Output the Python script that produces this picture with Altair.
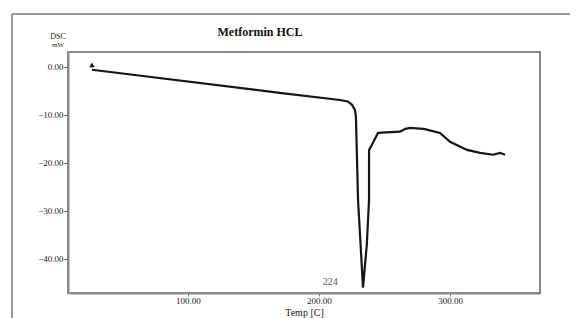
import altair as alt
import pandas as pd

# DSC curve (temperature in C, heat flow in mW)
temp = [26.7, 170.0, 216.0, 222.0, 225.2, 227.5, 228.2, 229.8, 233.6, 236.5,
        238.2, 238.2, 241.2, 245.0, 255.0, 261.8, 266.0, 269.5, 280.0, 292.4,
        300.0, 313.0, 322.9, 332.8, 338.2, 342.0]
dsc = [-0.6, -5.4, -6.9, -7.2, -7.9, -9.0, -10.5, -27.7, -46.0, -37.0,
       -27.7, -17.3, -15.8, -13.75, -13.6, -13.5, -12.9, -12.7, -12.9, -13.75,
       -15.6, -17.3, -17.9, -18.3, -17.9, -18.3]

marker_temp = [26.7]
marker_dsc = [0.4]

peak_label = ["224"]
peak_label_temp = [208.5]
peak_label_dsc = [-44.8]

x_ticks = [100, 200, 300]
y_ticks = [0, -10, -20, -30, -40]

chart_title = ["Metformin HCL"]
y_title = ["DSC", "mW"]

curve = pd.DataFrame({"temp": temp, "dsc": dsc, "i": list(range(len(temp)))})
marker = pd.DataFrame({"temp": marker_temp, "dsc": marker_dsc})
label = pd.DataFrame({"t": peak_label, "temp": peak_label_temp, "dsc": peak_label_dsc})

xs = alt.Scale(domain=[8.4, 368.7], nice=False, zero=False)
ys = alt.Scale(domain=[-47.1, 3.1], nice=False, zero=False)

FONT = "Liberation Serif"
TXT = "#222"

line = alt.Chart(curve).mark_line(color="#151515", strokeWidth=2.2, clip=True).encode(
    x=alt.X("temp:Q", scale=xs,
            axis=alt.Axis(title="Temp   [C]", values=x_ticks, format=".2f",
                          labelFont=FONT, labelFontSize=9, labelColor=TXT,
                          titleFont=FONT, titleFontSize=10, titleFontWeight="normal",
                          titleColor=TXT, titlePadding=2, labelPadding=0,
                          tickSize=3, tickColor="#777", domainColor="#888",
                          domainWidth=2, grid=False)),
    y=alt.Y("dsc:Q", scale=ys,
            axis=alt.Axis(title=None, values=y_ticks, format=".2f",
                          labelFont=FONT, labelFontSize=9, labelColor=TXT,
                          labelPadding=1, tickSize=4, tickColor="#555",
                          domainColor="#888", domainWidth=2, grid=False)),
    order="i:Q",
)

tri = alt.Chart(marker).mark_point(shape="triangle-up", filled=True, color="#1a1a1a",
                                     size=30, opacity=1).encode(
    x=alt.X("temp:Q", scale=xs), y=alt.Y("dsc:Q", scale=ys))

txt = alt.Chart(label).mark_text(font=FONT, fontSize=10, color="#555").encode(
    x=alt.X("temp:Q", scale=xs), y=alt.Y("dsc:Q", scale=ys), text="t:N")

ylab1 = alt.Chart(pd.DataFrame({"t": y_title[:1]})).mark_text(
    font=FONT, fontSize=8, color=TXT).encode(
    x=alt.value(-10), y=alt.value(-15), text="t:N")
ylab2 = alt.Chart(pd.DataFrame({"t": y_title[1:]})).mark_text(
    font=FONT, fontSize=7, color=TXT).encode(
    x=alt.value(-10), y=alt.value(-7), text="t:N")

title_mark = alt.Chart(pd.DataFrame({"t": chart_title})).mark_text(
    font=FONT, fontSize=12, fontWeight="bold", color="#111").encode(
    x=alt.value(192), y=alt.value(-20), text="t:N")

# outer gray frame of the original figure
frame_top = alt.Chart(pd.DataFrame({"a": [0]})).mark_rule(color="#9a9a9a", strokeWidth=2).encode(
    x=alt.value(-56), x2=alt.value(520), y=alt.value(-38))
frame_left = alt.Chart(pd.DataFrame({"a": [0]})).mark_rule(color="#9a9a9a", strokeWidth=2).encode(
    x=alt.value(-56), y=alt.value(-38), y2=alt.value(270))

chart = alt.layer(frame_top, frame_left, line, tri, txt, ylab1, ylab2, title_mark).properties(
    width=472, height=241,
    autosize=alt.AutoSizeParams(type="none"),
    padding={"left": 60, "top": 44, "right": 30, "bottom": 25},
).configure_view(stroke="#888", strokeWidth=2)

chart.save("out.html", embed_options={"renderer": "svg", "actions": False})
